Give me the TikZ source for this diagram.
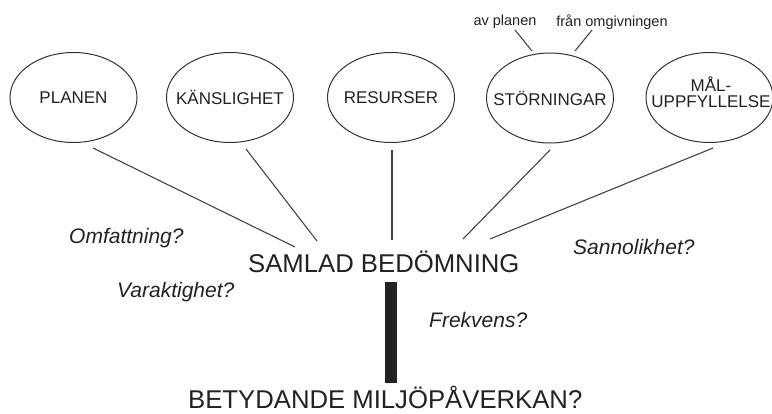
\documentclass[tikz,border=0pt]{standalone}
\usepackage{fontspec}
\setmainfont{Liberation Sans}
\usetikzlibrary{shapes.geometric}
\definecolor{ink}{HTML}{222222}
\definecolor{edge}{HTML}{333333}
\definecolor{conn}{HTML}{444444}
\begin{document}
\begin{tikzpicture}[x=1pt,y=-1pt,
  bubble/.style={draw=edge,line width=1pt,ellipse,minimum width=127pt,minimum height=90pt,inner sep=0pt},
  btxt/.style={text=ink,font=\fontsize{17}{16}\selectfont,inner sep=0pt,align=center},
  small/.style={text=ink,font=\fontsize{14.5}{17}\selectfont,inner sep=0pt},
  big/.style={text=ink,font=\fontsize{25.7}{30}\selectfont,inner sep=0pt,anchor=base west},
  qlab/.style={text=ink,font=\fontsize{21}{25}\selectfont\itshape,inner sep=0pt,anchor=west},
  conline/.style={draw=conn,line width=1.1pt},
  barline/.style={draw=ink,line width=12pt}]
\useasboundingbox (0,0) rectangle (772,414);
% ellipses
\node[bubble] (planen) at (73.5,97.5) {};
\node[bubble] (kansl) at (230,97.5) {};
\node[bubble] (resurs) at (391,97.5) {};
\node[bubble] (storn) at (550,98) {};
\node[bubble] (mal) at (709.5,97.5) {};
\node[btxt] (tplanen) at (planen) {PLANEN};
\node[btxt] (tkansl) at (kansl) {KÄNSLIGHET};
\node[btxt] (tresurs) at (resurs) {RESURSER};
\node[btxt] (tstorn) at (storn) {STÖRNINGAR};
\node[btxt] (tmal) at (711,92) {MÅL-\\UPPFYLLELSE};
% top labels
\node[small] (avpl) at (505,22) {av planen};
\node[small] (fran) at (612,22) {från omgivningen};
\coordinate (a1) at (515,30); \coordinate (a2) at (532,51);
\coordinate (b1) at (592,30); \coordinate (b2) at (575,51);
\draw[conline] (a1) -- (a2);
\draw[conline] (b1) -- (b2);
% central texts
\node[big] (samlad) at (248,273) {SAMLAD BEDÖMNING};
\node[big] (betyd) at (188,409) {BETYDANDE MILJÖPÅVERKAN?};
% connector coordinates
\coordinate (p1) at (93,148);   \coordinate (q1) at (295,247);
\coordinate (p2) at (246,149);  \coordinate (q2) at (317,241);
\coordinate (p3) at (392,150);  \coordinate (q3) at (392,240);
\coordinate (p4) at (550,150);  \coordinate (q4) at (463,239);
\coordinate (p5) at (713,148);  \coordinate (q5) at (490,239);
\draw[conline] (p1) -- (q1);
\draw[conline] (p2) -- (q2);
\draw[conline] (p3) -- (q3);
\draw[conline] (p4) -- (q4);
\draw[conline] (p5) -- (q5);
% bar
\coordinate (bt) at (391,282); \coordinate (bb) at (391,383);
\draw[barline] (bt) -- (bb);
% question labels
\node[qlab] (omf) at (69,238) {Omfattning?};
\node[qlab] (var) at (117,292) {Varaktighet?};
\node[qlab] (frek) at (429,320) {Frekvens?};
\node[qlab] (sann) at (573,247) {Sannolikhet?};
\end{tikzpicture}
\end{document}
